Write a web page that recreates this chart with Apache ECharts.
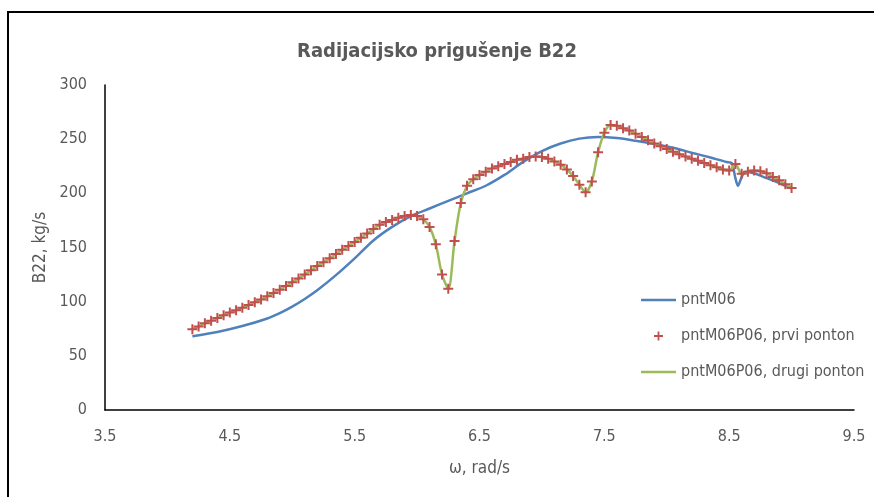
<!DOCTYPE html>
<html>
<head>
<meta charset="utf-8">
<script src="https://cdn.jsdelivr.net/npm/echarts@6/dist/echarts.min.js"></script>
<style>
  html, body { margin: 0; padding: 0; background: #fff; }
  #chart { width: 874px; height: 497px; }
</style>
</head>
<body>
<div id="chart"></div>
<script>
// pntM06 (x, y)
const omegaM06 = [4.2, 4.4, 4.6, 4.8, 4.9, 5.0, 5.1, 5.2, 5.35, 5.5, 5.65, 5.8, 5.95, 6.1, 6.25, 6.4, 6.55, 6.7, 6.85, 7.0, 7.15, 7.3, 7.45, 7.6, 7.75, 7.9, 8.05, 8.2, 8.35, 8.48, 8.52, 8.55, 8.57, 8.6, 8.63, 8.7, 8.8, 8.9, 9.0];
const b22M06 = [68, 72, 77.5, 84.5, 89.5, 95.5, 102.5, 110.5, 124.5, 140, 156.5, 169, 179, 186, 193, 200, 207, 217, 229, 239, 246, 250.5, 252, 251, 248.5, 245.5, 242, 237.5, 233, 229, 228, 214, 207, 215, 220, 218.5, 214, 209.5, 204.5];

// pntM06P06
const omegaP06 = [4.2, 4.25, 4.3, 4.35, 4.4, 4.45, 4.5, 4.55, 4.6, 4.65, 4.7, 4.75, 4.8, 4.85, 4.9, 4.95,
  5.0, 5.05, 5.1, 5.15, 5.2, 5.25, 5.3, 5.35, 5.4, 5.45, 5.5, 5.55, 5.6, 5.65, 5.7, 5.75, 5.8, 5.85, 5.9, 5.95,
  6.0, 6.05, 6.1, 6.15, 6.2, 6.25, 6.3, 6.35, 6.4, 6.45, 6.5, 6.55, 6.6, 6.65, 6.7, 6.75, 6.8, 6.85, 6.9, 6.95,
  7.0, 7.05, 7.1, 7.15, 7.2, 7.25, 7.3, 7.35, 7.4, 7.45, 7.5, 7.55, 7.6, 7.65, 7.7, 7.75, 7.8, 7.85, 7.9, 7.95,
  8.0, 8.05, 8.1, 8.15, 8.2, 8.25, 8.3, 8.35, 8.4, 8.45, 8.5, 8.55, 8.6, 8.65, 8.7, 8.75, 8.8, 8.85, 8.9, 8.95, 9.0];
const b22Prvi = [74.5, 77, 80, 82.5, 85, 87.5, 90, 92, 94.5, 97, 99.5, 102, 105, 108, 111, 114.5,
  118, 121.5, 125, 129, 133, 136.5, 140, 144, 148, 151.5, 155, 159, 163, 167, 171, 173.5, 175.5, 177.5, 179, 180,
  179, 176, 169, 153, 125, 112, 156, 191, 207, 213, 217, 220, 223, 225, 227, 229, 231, 232, 233.5, 234,
  233.5, 232, 229.5, 226.5, 222, 216, 208, 201, 211, 238, 256, 263, 262.5, 260, 258, 255, 252, 249, 246, 243.5,
  241, 238.5, 236, 234, 232, 230, 228, 226, 224, 222, 221, 227, 218, 220, 221, 220.5, 218.5, 215, 212, 208.5, 205];
const b22Drugi = b22Prvi;

const xTicks = { min: 3.5, max: 9.5, step: 1 };
const yTicks = { min: 0, max: 300, step: 50 };

const font = 'Liberation Sans Narrow, DejaVu Sans Condensed, Open Sans, sans-serif';
const textColor = '#595959';

const pairs = (xs, ys) => xs.map((x, i) => [x, ys[i]]);
const plus = 'path://M4,0H6V4H10V6H6V10H4V6H0V4H4Z';
const dash = 'path://M0,0H35V2.5H0Z';

const chart = echarts.init(document.getElementById('chart'));

chart.setOption({
  animation: false,
  textStyle: { fontFamily: font },
  title: {
    text: 'Radijacijsko prigušenje B22',
    left: 432,
    textAlign: 'center',
    top: 37,
    textStyle: { fontFamily: font, fontSize: 20, fontWeight: 'bold', color: textColor },
  },
  graphic: [
    {
      type: 'rect',
      shape: { x: 8, y: 12, width: 900, height: 600 },
      style: { fill: 'none', stroke: '#000', lineWidth: 2 },
      silent: true,
    },
  ],
  grid: { left: 105, right: 20, top: 85, bottom: 87 },
  legend: {
    orient: 'vertical',
    left: 636,
    top: 287,
    itemWidth: 35,
    itemHeight: 9,
    itemGap: 20,
    textStyle: { fontFamily: font, fontSize: 16, color: textColor },
    data: [
      { name: 'pntM06', icon: dash },
      { name: 'pntM06P06, prvi ponton', icon: plus },
      { name: 'pntM06P06, drugi ponton', icon: dash },
    ],
  },
  xAxis: {
    type: 'value',
    min: xTicks.min,
    max: xTicks.max,
    interval: xTicks.step,
    name: 'ω, rad/s',
    nameLocation: 'middle',
    nameGap: 50,
    nameTextStyle: { fontFamily: font, fontSize: 17, color: textColor },
    axisLine: { lineStyle: { color: '#000', width: 1.5 } },
    axisTick: { show: false },
    splitLine: { show: false },
    axisLabel: { margin: 19, fontSize: 16, color: textColor, formatter: (v) => v.toFixed(1) },
  },
  yAxis: {
    type: 'value',
    min: yTicks.min,
    max: yTicks.max,
    interval: yTicks.step,
    name: 'B22, kg/s',
    nameLocation: 'middle',
    nameGap: 52,
    nameTextStyle: { fontFamily: font, fontSize: 17, color: textColor },
    axisLine: { show: true, lineStyle: { color: '#000', width: 1.5 } },
    axisTick: { show: false },
    splitLine: { show: false },
    axisLabel: { margin: 18, fontSize: 16, color: textColor },
  },
  series: [
    {
      name: 'pntM06',
      type: 'line',
      data: pairs(omegaM06, b22M06),
      smooth: 0.3,
      symbol: 'none',
      lineStyle: { color: '#4F81BD', width: 2.5 },
      itemStyle: { color: '#4F81BD' },
      z: 2,
    },
    {
      name: 'pntM06P06, prvi ponton',
      type: 'scatter',
      data: pairs(omegaP06, b22Prvi),
      symbol: plus,
      symbolSize: 10,
      itemStyle: { color: '#C0504D', opacity: 1 },
      z: 4,
    },
    {
      name: 'pntM06P06, drugi ponton',
      type: 'line',
      data: pairs(omegaP06, b22Drugi),
      smooth: 0.3,
      symbol: 'none',
      lineStyle: { color: '#9BBB59', width: 2.5 },
      itemStyle: { color: '#9BBB59' },
      z: 3,
    },
  ],
});
</script>
</body>
</html>
